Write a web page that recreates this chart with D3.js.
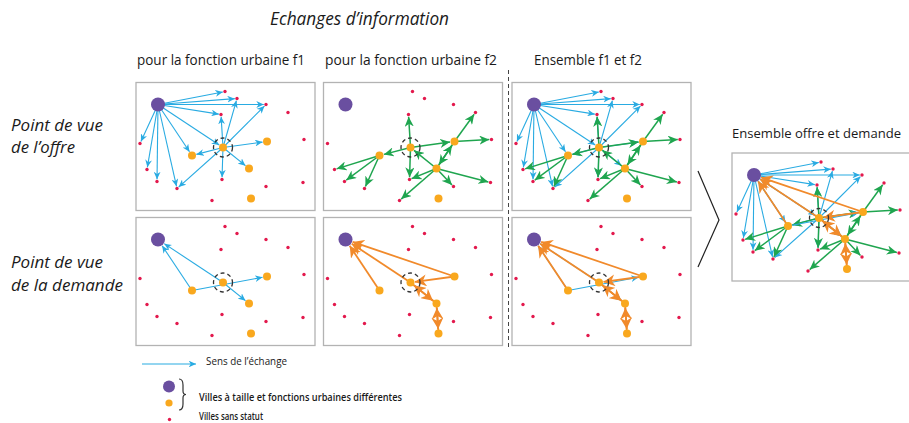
<!DOCTYPE html>
<html>
<head>
<meta charset="utf-8">
<script src="https://cdn.jsdelivr.net/npm/d3@7"></script>
<style>
    body { margin: 0; background: #fff; }
    text { font-family: "Open Sans", "Noto Sans", sans-serif; fill: #1a1a1a; }
</style>
</head>
<body>
<svg id="chart" width="909" height="423"></svg>
<script>

// city positions, in panel units (a panel is 179 x 128)
var bigCities = [['P', 22, 22]];
var midCities = [['O0', 87, 65], ['O1', 56, 73], ['O2', 131, 59], ['O3', 113, 86], ['O4', 115, 116]];
var smallCities = [
    ['r0', 89, 9], ['r1', 101, 16], ['r2', 130, 22], ['r3', 152, 30], ['r4', 85, 32],
    ['r5', 4, 61], ['r6', 168, 57], ['r7', 11, 87], ['r8', 21, 99], ['r9', 41, 106],
    ['r10', 86, 97], ['r11', 130, 104], ['r12', 167, 100], ['r13', 76, 118]
];
var focusCity = 'O0';

// exchanges, [from, to]
var f1Offer = [
    ['P', 'r0'], ['P', 'r1'], ['P', 'r2'], ['P', 'r4'], ['P', 'O0'], ['P', 'O1'],
    ['P', 'r5'], ['P', 'r7'], ['P', 'r8'], ['P', 'r9'],
    ['O0', 'r4'], ['O0', 'r1'], ['O0', 'r2'], ['O0', 'O2'], ['O0', 'O3'],
    ['O0', 'r10'], ['O0', 'r9'], ['O0', 'O1']
];
var f2Offer = [
    ['O0', 'r4'], ['O0', 'r10'], ['O0', 'O2'], ['O0', 'O1'],
    ['O1', 'r7'], ['O1', 'r8'], ['O1', 'r9'],
    ['O2', 'r3'], ['O2', 'r6'], ['O2', 'O3'],
    ['O3', 'O2'], ['O3', 'O0'], ['O3', 'r10'], ['O3', 'r11'], ['O3', 'r12'], ['O3', 'r13']
];
var f1Demand = [['O1', 'P'], ['O0', 'P'], ['O1', 'O2'], ['O0', 'O3']];
var f2Demand = [
    ['O1', 'P'], ['O0', 'P'], ['O2', 'P'], ['O2', 'O0'],
    ['O0', 'O3'], ['O3', 'O0'], ['O3', 'O4'], ['O4', 'O3']
];

var columnTitles = ['pour la fonction urbaine f1', 'pour la fonction urbaine f2', 'Ensemble f1 et f2'];
var rowTitles = [['Point de vue', 'de l\u2019offre'], ['Point de vue', 'de la demande']];
var legendLabels = ['Sens de l\u2019\u00e9change', 'Villes \u00e0 taille et fonctions urbaines diff\u00e9rentes', 'Villes sans statut'];

var colors = {
    f1: '#29abe2',
    f2offer: '#1fa54f',
    f2demand: '#f18a2b',
    big: '#6a4fa0',
    mid: '#f9a81e',
    small: '#e3194d',
    frame: '#b3b3b3'
};

var panelW = 179, panelH = 128;

var svg = d3.select('#chart');
var defs = svg.append('defs');

function addMarker(id, color, len, half) {
    defs.append('marker')
        .attr('id', id)
        .attr('markerUnits', 'userSpaceOnUse')
        .attr('viewBox', (-len) + ' ' + (-half) + ' ' + len + ' ' + (2 * half))
        .attr('markerWidth', len)
        .attr('markerHeight', 2 * half)
        .attr('refX', 0)
        .attr('refY', 0)
        .attr('orient', 'auto')
        .append('path')
        .attr('d', 'M0,0L' + (-len) + ',' + (-half) + 'L' + (-len * 0.7) + ',0L' + (-len) + ',' + half + 'Z')
        .attr('fill', color);
}

addMarker('arrow-f1', colors.f1, 7.5, 3.4);
addMarker('arrow-f2o', colors.f2offer, 10, 4.6);
addMarker('arrow-f2d', colors.f2demand, 11.5, 6);

var styles = {
    f1: {color: colors.f1, width: 1.1, marker: 'arrow-f1'},
    f2o: {color: colors.f2offer, width: 1.5, marker: 'arrow-f2o'},
    f2d: {color: colors.f2demand, width: 1.8, marker: 'arrow-f2d'}
};

var cities = {};
bigCities.forEach(d => cities[d[0]] = {x: d[1], y: d[2], r: 7, color: colors.big});
midCities.forEach(d => cities[d[0]] = {x: d[1], y: d[2], r: 4, color: colors.mid});
smallCities.forEach(d => cities[d[0]] = {x: d[1], y: d[2], r: 1.7, color: colors.small});

var panels = [
    {x: 136, y: 82.5, sets: [[f1Offer, 'f1']]},
    {x: 323.5, y: 82.5, sets: [[f2Offer, 'f2o']]},
    {x: 512, y: 82.5, sets: [[f1Offer, 'f1'], [f2Offer, 'f2o']]},
    {x: 136, y: 217.5, sets: [[f1Demand, 'f1']]},
    {x: 323.5, y: 217.5, sets: [[f2Demand, 'f2d']]},
    {x: 512, y: 217.5, sets: [[f1Demand, 'f1'], [f2Demand, 'f2d']]},
    {x: 732, y: 153, sets: [[f1Offer, 'f1'], [f2Offer, 'f2o'], [f1Demand, 'f1'], [f2Demand, 'f2d']]}
];

function drawPanel(p) {
    var x = d3.scaleLinear().domain([0, panelW]).range([p.x, p.x + panelW]);
    var y = d3.scaleLinear().domain([0, panelH]).range([p.y, p.y + panelH]);

    var g = svg.append('g');

    g.append('rect')
        .attr('x', x(0))
        .attr('y', y(0))
        .attr('width', x(panelW) - x(0))
        .attr('height', y(panelH) - y(0))
        .attr('fill', '#fff')
        .attr('stroke', colors.frame)
        .attr('stroke-width', 1.3);

    p.sets.forEach(set => {
        var style = styles[set[1]];
        g.append('g').selectAll('line')
            .data(set[0])
            .join('line')
            .each(function(e) {
                var s = cities[e[0]], t = cities[e[1]];
                var x1 = x(s.x), y1 = y(s.y), x2 = x(t.x), y2 = y(t.y);
                var len = Math.hypot(x2 - x1, y2 - y1);
                var k = (len - t.r - 0.5) / len;
                d3.select(this)
                    .attr('x1', x1)
                    .attr('y1', y1)
                    .attr('x2', x1 + (x2 - x1) * k)
                    .attr('y2', y1 + (y2 - y1) * k);
            })
            .attr('stroke', style.color)
            .attr('stroke-width', style.width)
            .attr('marker-end', 'url(#' + style.marker + ')');
    });

    var focus = cities[focusCity];
    g.append('circle')
        .attr('cx', x(focus.x))
        .attr('cy', y(focus.y))
        .attr('r', 9.5)
        .attr('fill', 'none')
        .attr('stroke', '#333')
        .attr('stroke-width', 1.3)
        .attr('stroke-dasharray', '4,3');

    g.append('g').selectAll('circle')
        .data(Object.values(cities))
        .join('circle')
        .attr('cx', d => x(d.x))
        .attr('cy', d => y(d.y))
        .attr('r', d => d.r)
        .attr('fill', d => d.color);
}

panels.forEach(drawPanel);

// titles
svg.append('text')
    .attr('x', 270)
    .attr('y', 25)
    .attr('font-size', 18)
    .attr('font-style', 'italic')
    .attr('textLength', 179)
    .attr('lengthAdjust', 'spacingAndGlyphs')
    .text('Echanges d\u2019information');

var colX = [137, 325, 534];
var colW = [168, 172, 108];
columnTitles.forEach((t, i) => {
    svg.append('text')
        .attr('x', colX[i])
        .attr('y', 65)
        .attr('font-size', 15)
        .attr('textLength', colW[i])
        .attr('lengthAdjust', 'spacingAndGlyphs')
        .text(t);
});

var rowY = [[131, 153], [268, 291]];
var rowW = [[92, 64], [92, 112]];
rowTitles.forEach((lines, i) => {
    lines.forEach((t, j) => {
        svg.append('text')
            .attr('x', 11)
            .attr('y', rowY[i][j])
            .attr('font-size', 17)
            .attr('font-style', 'italic')
            .attr('textLength', rowW[i][j])
            .attr('lengthAdjust', 'spacingAndGlyphs')
            .text(t);
    });
});

svg.append('text')
    .attr('x', 732)
    .attr('y', 138)
    .attr('font-size', 13)
    .attr('textLength', 169)
    .attr('lengthAdjust', 'spacingAndGlyphs')
    .text('Ensemble offre et demande');

// separator and chevron
svg.append('line')
    .attr('x1', 508.5).attr('y1', 70)
    .attr('x2', 508.5).attr('y2', 350)
    .attr('stroke', '#444')
    .attr('stroke-width', 1)
    .attr('stroke-dasharray', '4,3');

svg.append('path')
    .attr('d', 'M698,171L719,220L698,267')
    .attr('fill', 'none')
    .attr('stroke', '#222')
    .attr('stroke-width', 1.2);

// legend
var legend = svg.append('g');

legend.append('line')
    .attr('x1', 142).attr('y1', 364)
    .attr('x2', 196).attr('y2', 364)
    .attr('stroke', colors.f1)
    .attr('stroke-width', 1.1)
    .attr('marker-end', 'url(#arrow-f1)');

legend.append('circle').attr('cx', 169).attr('cy', 386.5).attr('r', 6).attr('fill', colors.big);
legend.append('circle').attr('cx', 169).attr('cy', 403).attr('r', 3.6).attr('fill', colors.mid);
legend.append('circle').attr('cx', 169.5).attr('cy', 419.5).attr('r', 1.7).attr('fill', colors.small);

legend.append('path')
    .attr('d', 'M179,379Q183,379 183,385L183,391Q183,394.5 186,394.5Q183,394.5 183,398L183,404Q183,410 179,410')
    .attr('fill', 'none')
    .attr('stroke', '#333')
    .attr('stroke-width', 1.2);

var legendY = [365, 401, 420];
var legendX = [206, 199, 199];
var legendW = [81, 203, 64];
legendLabels.forEach((t, i) => {
    legend.append('text')
        .attr('x', legendX[i])
        .attr('y', legendY[i])
        .attr('font-size', i === 0 ? 11 : 10)
        .attr('font-weight', i === 0 ? 400 : 600)
        .attr('textLength', legendW[i])
        .attr('lengthAdjust', 'spacingAndGlyphs')
        .text(t);
});

</script>
</body>
</html>
